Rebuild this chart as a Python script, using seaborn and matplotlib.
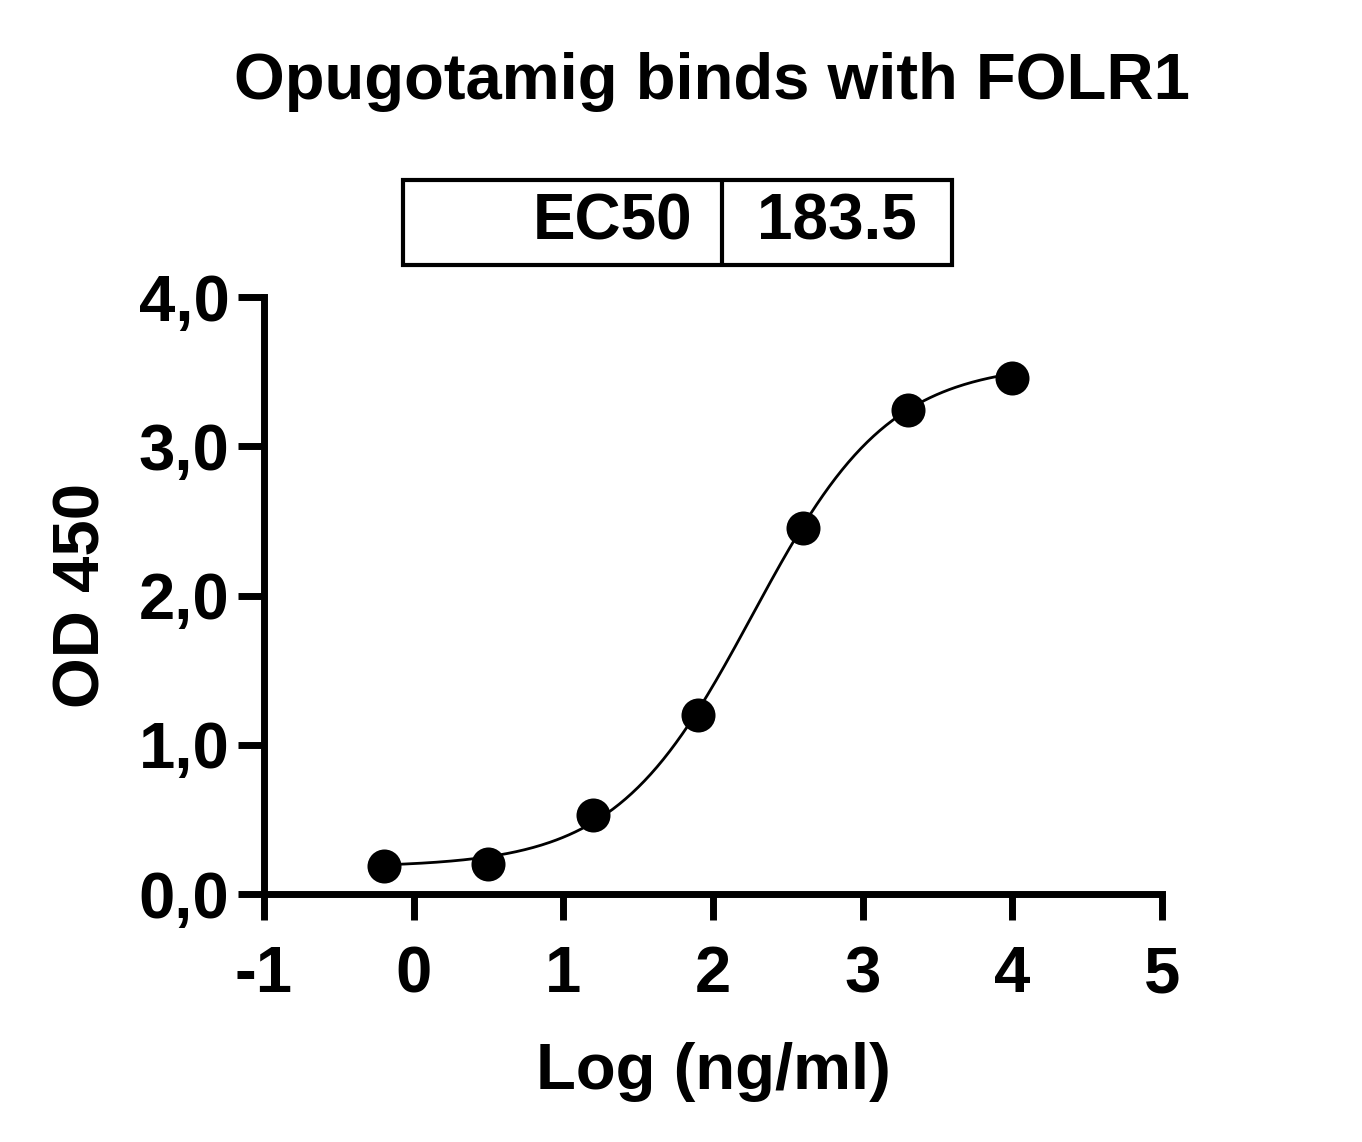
import numpy as np
import pandas as pd
import matplotlib
matplotlib.use("Agg")
import matplotlib.pyplot as plt
import seaborn as sns
from matplotlib.patches import Rectangle
from matplotlib.lines import Line2D

# ---- data ----
log_conc = [-0.2, 0.5, 1.2, 1.9, 2.6, 3.3, 4.0]
od450 = [0.19, 0.20, 0.53, 1.20, 2.45, 3.24, 3.46]
ec50 = 183.5
fit_bottom = 0.18
fit_top = 3.56
fit_hill = 0.95
x_ticks = [-1, 0, 1, 2, 3, 4, 5]
y_ticks = [0, 1, 2, 3, 4]
y_tick_labels = ["0,0", "1,0", "2,0", "3,0", "4,0"]
title = "Opugotamig binds with FOLR1"
x_label = "Log (ng/ml)"
y_label = "OD 450"

sns.set_theme(style="ticks")
plt.rcParams['font.family'] = ['Liberation Sans', 'DejaVu Sans']
plt.rcParams['font.weight'] = 'bold'
plt.rcParams['text.color'] = 'black'
plt.rcParams['axes.labelcolor'] = 'black'
plt.rcParams['xtick.color'] = 'black'
plt.rcParams['ytick.color'] = 'black'

fig = plt.figure(figsize=(13.62, 11.42), dpi=100)
W, H = 1362, 1142
ax = fig.add_axes([264 / W, 1 - 894 / H, (1162 - 264) / W, (894 - 297) / H])

pts = pd.DataFrame({"x": log_conc, "y": od450})
xs = np.linspace(min(log_conc), max(log_conc), 300)
ys = fit_bottom + (fit_top - fit_bottom) / (1 + 10 ** ((np.log10(ec50) - xs) * fit_hill))
curve = pd.DataFrame({"x": xs, "y": ys})

sns.lineplot(data=curve, x="x", y="y", ax=ax, color="black", linewidth=2.0)
sns.scatterplot(data=pts, x="x", y="y", ax=ax, color="black", s=600,
                edgecolor="black", linewidth=0, zorder=5, clip_on=False)

ax.set_xlim(-1, 5)
ax.set_ylim(0, 4)
ax.set_xticks(x_ticks)
ax.set_xticklabels([str(t) for t in x_ticks])
ax.set_yticks(y_ticks)
ax.set_yticklabels(y_tick_labels)

for s in ["top", "right"]:
    ax.spines[s].set_visible(False)
for s in ["left", "bottom"]:
    ax.spines[s].set_linewidth(5)
    ax.spines[s].set_color("black")
    ax.spines[s].set_capstyle("projecting")

ax.tick_params(axis="both", which="major", direction="out", length=19, width=5,
               color="black", labelcolor="black", labelsize=47,
               bottom=True, left=True, top=False, right=False)
ax.tick_params(axis="x", pad=18)
ax.tick_params(axis="y", pad=6)
ax.minorticks_off()
for lab in ax.get_xticklabels() + ax.get_yticklabels():
    lab.set_fontweight("bold")

ax.set_xlabel(x_label, fontsize=47, fontweight="bold", labelpad=26, color="black")
ax.set_ylabel(y_label, fontsize=47, fontweight="bold", labelpad=19, color="black")
ax.patch.set_alpha(0)

fig.text(712 / W, 1 - 82 / H, title, ha="center", va="center", fontsize=47,
         fontweight="bold", color="black")

# EC50 box
bx0, bx1, bdiv, by0, by1 = 403, 952, 722, 180, 265
fig.patches.append(Rectangle((bx0 / W, 1 - by1 / H), (bx1 - bx0) / W, (by1 - by0) / H,
                             transform=fig.transFigure, fill=False, edgecolor="black", linewidth=3))
fig.lines.append(Line2D([bdiv / W, bdiv / W], [1 - by1 / H, 1 - by0 / H],
                        transform=fig.transFigure, color="black", linewidth=3))
fig.text((bdiv - 30) / W, 1 - (by0 + by1) / 2 / H, "EC50", ha="right", va="center",
         fontsize=46, fontweight="bold", color="black")
fig.text((bdiv + bx1) / 2 / W, 1 - (by0 + by1) / 2 / H, f"{ec50}", ha="center", va="center",
         fontsize=46, fontweight="bold", color="black")

fig.savefig("out.png", dpi=100)
